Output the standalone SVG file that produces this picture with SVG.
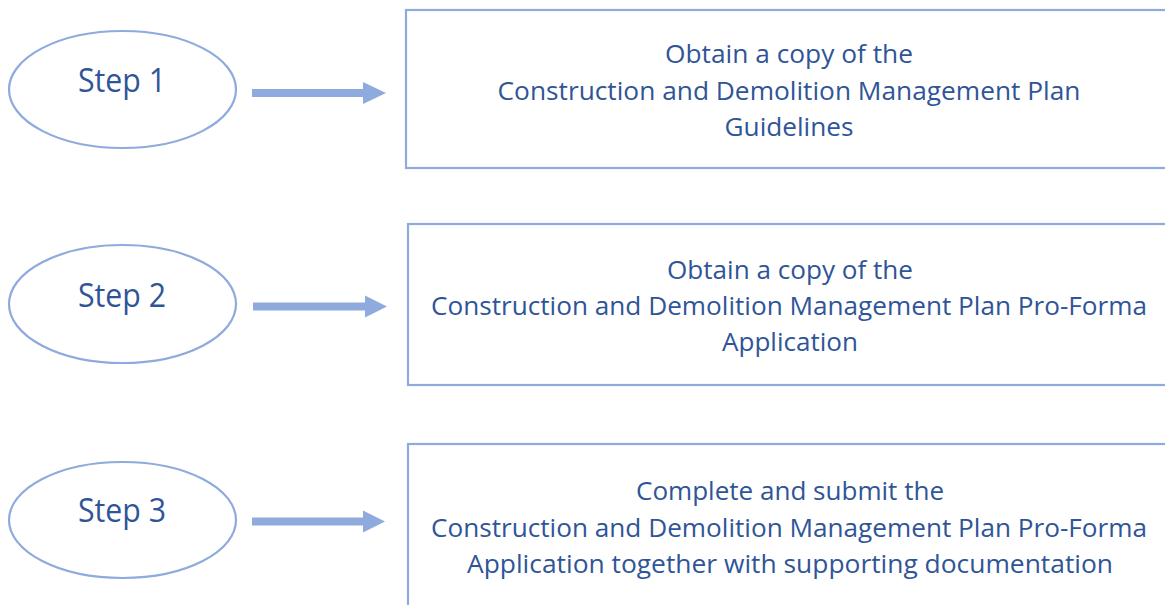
<svg xmlns="http://www.w3.org/2000/svg" width="1165" height="605" viewBox="0 0 1165 605">
<style>
.shape{fill:#ffffff;stroke:#8faadc;stroke-width:2.2}
.arrow{fill:#8faadc;stroke:none}
.lbl{font-family:"Open Sans","Liberation Sans",sans-serif;fill:#2f5597;text-anchor:middle}
.step{font-size:32px}
.body{font-size:26px}
</style>
<rect width="1165" height="605" fill="#ffffff"/>
<g id="step1">
<ellipse class="shape" cx="122.5" cy="89.5" rx="113.5" ry="58.5"/>
<text class="lbl step" x="122" y="92" textLength="88" lengthAdjust="spacingAndGlyphs">Step 1</text>
</g>
<g id="step2">
<ellipse class="shape" cx="122.5" cy="304" rx="113.5" ry="59"/>
<text class="lbl step" x="122" y="306.5" textLength="88" lengthAdjust="spacingAndGlyphs">Step 2</text>
</g>
<g id="step3">
<ellipse class="shape" cx="122.5" cy="520" rx="113.5" ry="58"/>
<text class="lbl step" x="122" y="521.5" textLength="88" lengthAdjust="spacingAndGlyphs">Step 3</text>
</g>
<g id="box1">
<rect class="shape" x="406" y="10" width="780" height="158"/>
<text class="lbl body" x="789" y="63" textLength="248" lengthAdjust="spacingAndGlyphs">Obtain a copy of the</text>
<text class="lbl body" x="789" y="100" textLength="583" lengthAdjust="spacingAndGlyphs">Construction and Demolition Management Plan</text>
<text class="lbl body" x="789" y="136" textLength="129" lengthAdjust="spacingAndGlyphs">Guidelines</text>
</g>
<g id="box2">
<rect class="shape" x="408" y="224" width="780" height="161"/>
<text class="lbl body" x="790" y="279" textLength="246" lengthAdjust="spacingAndGlyphs">Obtain a copy of the</text>
<text class="lbl body" x="789" y="315" textLength="716" lengthAdjust="spacingAndGlyphs">Construction and Demolition Management Plan Pro-Forma</text>
<text class="lbl body" x="790" y="351" textLength="136" lengthAdjust="spacingAndGlyphs">Application</text>
</g>
<g id="box3">
<rect class="shape" x="408" y="444" width="780" height="180"/>
<text class="lbl body" x="790" y="500" textLength="308" lengthAdjust="spacingAndGlyphs">Complete and submit the</text>
<text class="lbl body" x="789" y="537" textLength="716" lengthAdjust="spacingAndGlyphs">Construction and Demolition Management Plan Pro-Forma</text>
<text class="lbl body" x="790" y="573" textLength="646" lengthAdjust="spacingAndGlyphs">Application together with supporting documentation</text>
</g>
<g id="connectors">
<path class="arrow" d="M252,89 H363 V82 L386,93 L363,104 V97 H252 Z"/>
<path class="arrow" d="M253,302.5 H365 V295.5 L387,306.5 L365,317.5 V310.5 H253 Z"/>
<path class="arrow" d="M252,517.5 H363 V510.5 L385,521.5 L363,532.5 V525.5 H252 Z"/>
</g>
</svg>
